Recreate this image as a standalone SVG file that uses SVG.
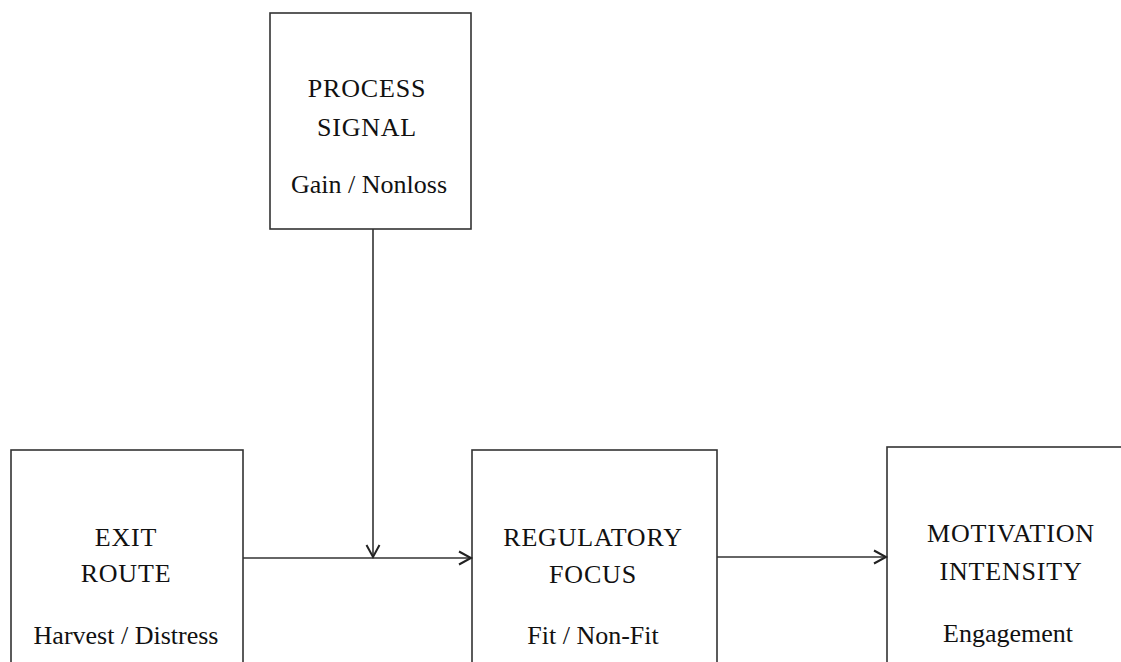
<svg xmlns="http://www.w3.org/2000/svg" width="1121" height="662" viewBox="0 0 1121 662">
<defs>
<style>
.box{fill:#fff;stroke:#333;stroke-width:1.6}
.t{font-family:"Liberation Serif","Times New Roman",serif;font-size:26px;fill:#111;text-anchor:middle}
.cap{letter-spacing:0.8px}
.c{fill:none;stroke:#333;stroke-width:1.6}
</style>
<marker id="ah" markerWidth="16" markerHeight="16" refX="13" refY="8" orient="auto" markerUnits="userSpaceOnUse">
<path d="M1,1.5 L13,8 L1,14.5" fill="none" stroke="#222" stroke-width="2"/>
</marker>
</defs>
<rect width="1121" height="662" fill="#fff"/>
<g id="process-signal">
<rect class="box" x="270" y="13" width="201" height="216"/>
<text class="t cap" x="367" y="97">PROCESS</text>
<text class="t cap" x="367" y="136">SIGNAL</text>
<text class="t" x="369" y="193">Gain / Nonloss</text>
</g>
<g id="exit-route">
<rect class="box" x="11" y="450" width="232" height="240"/>
<text class="t cap" x="126" y="546">EXIT</text>
<text class="t cap" x="126" y="582">ROUTE</text>
<text class="t" x="126" y="644">Harvest / Distress</text>
</g>
<g id="regulatory-focus">
<rect class="box" x="472" y="450" width="245" height="240"/>
<text class="t cap" x="593" y="546">REGULATORY</text>
<text class="t cap" x="593" y="583">FOCUS</text>
<text class="t" x="593" y="644">Fit / Non-Fit</text>
</g>
<g id="motivation-intensity">
<rect class="box" x="887" y="447" width="260" height="240"/>
<text class="t cap" x="1011" y="542">MOTIVATION</text>
<text class="t cap" x="1011" y="580">INTENSITY</text>
<text class="t" x="1008" y="642">Engagement</text>
</g>
<g id="connectors">
<line class="c" x1="243" y1="558" x2="471" y2="558" marker-end="url(#ah)"/>
<line class="c" x1="373" y1="229" x2="373" y2="557" marker-end="url(#ah)"/>
<line class="c" x1="717" y1="557" x2="886" y2="557" marker-end="url(#ah)"/>
</g>
</svg>
